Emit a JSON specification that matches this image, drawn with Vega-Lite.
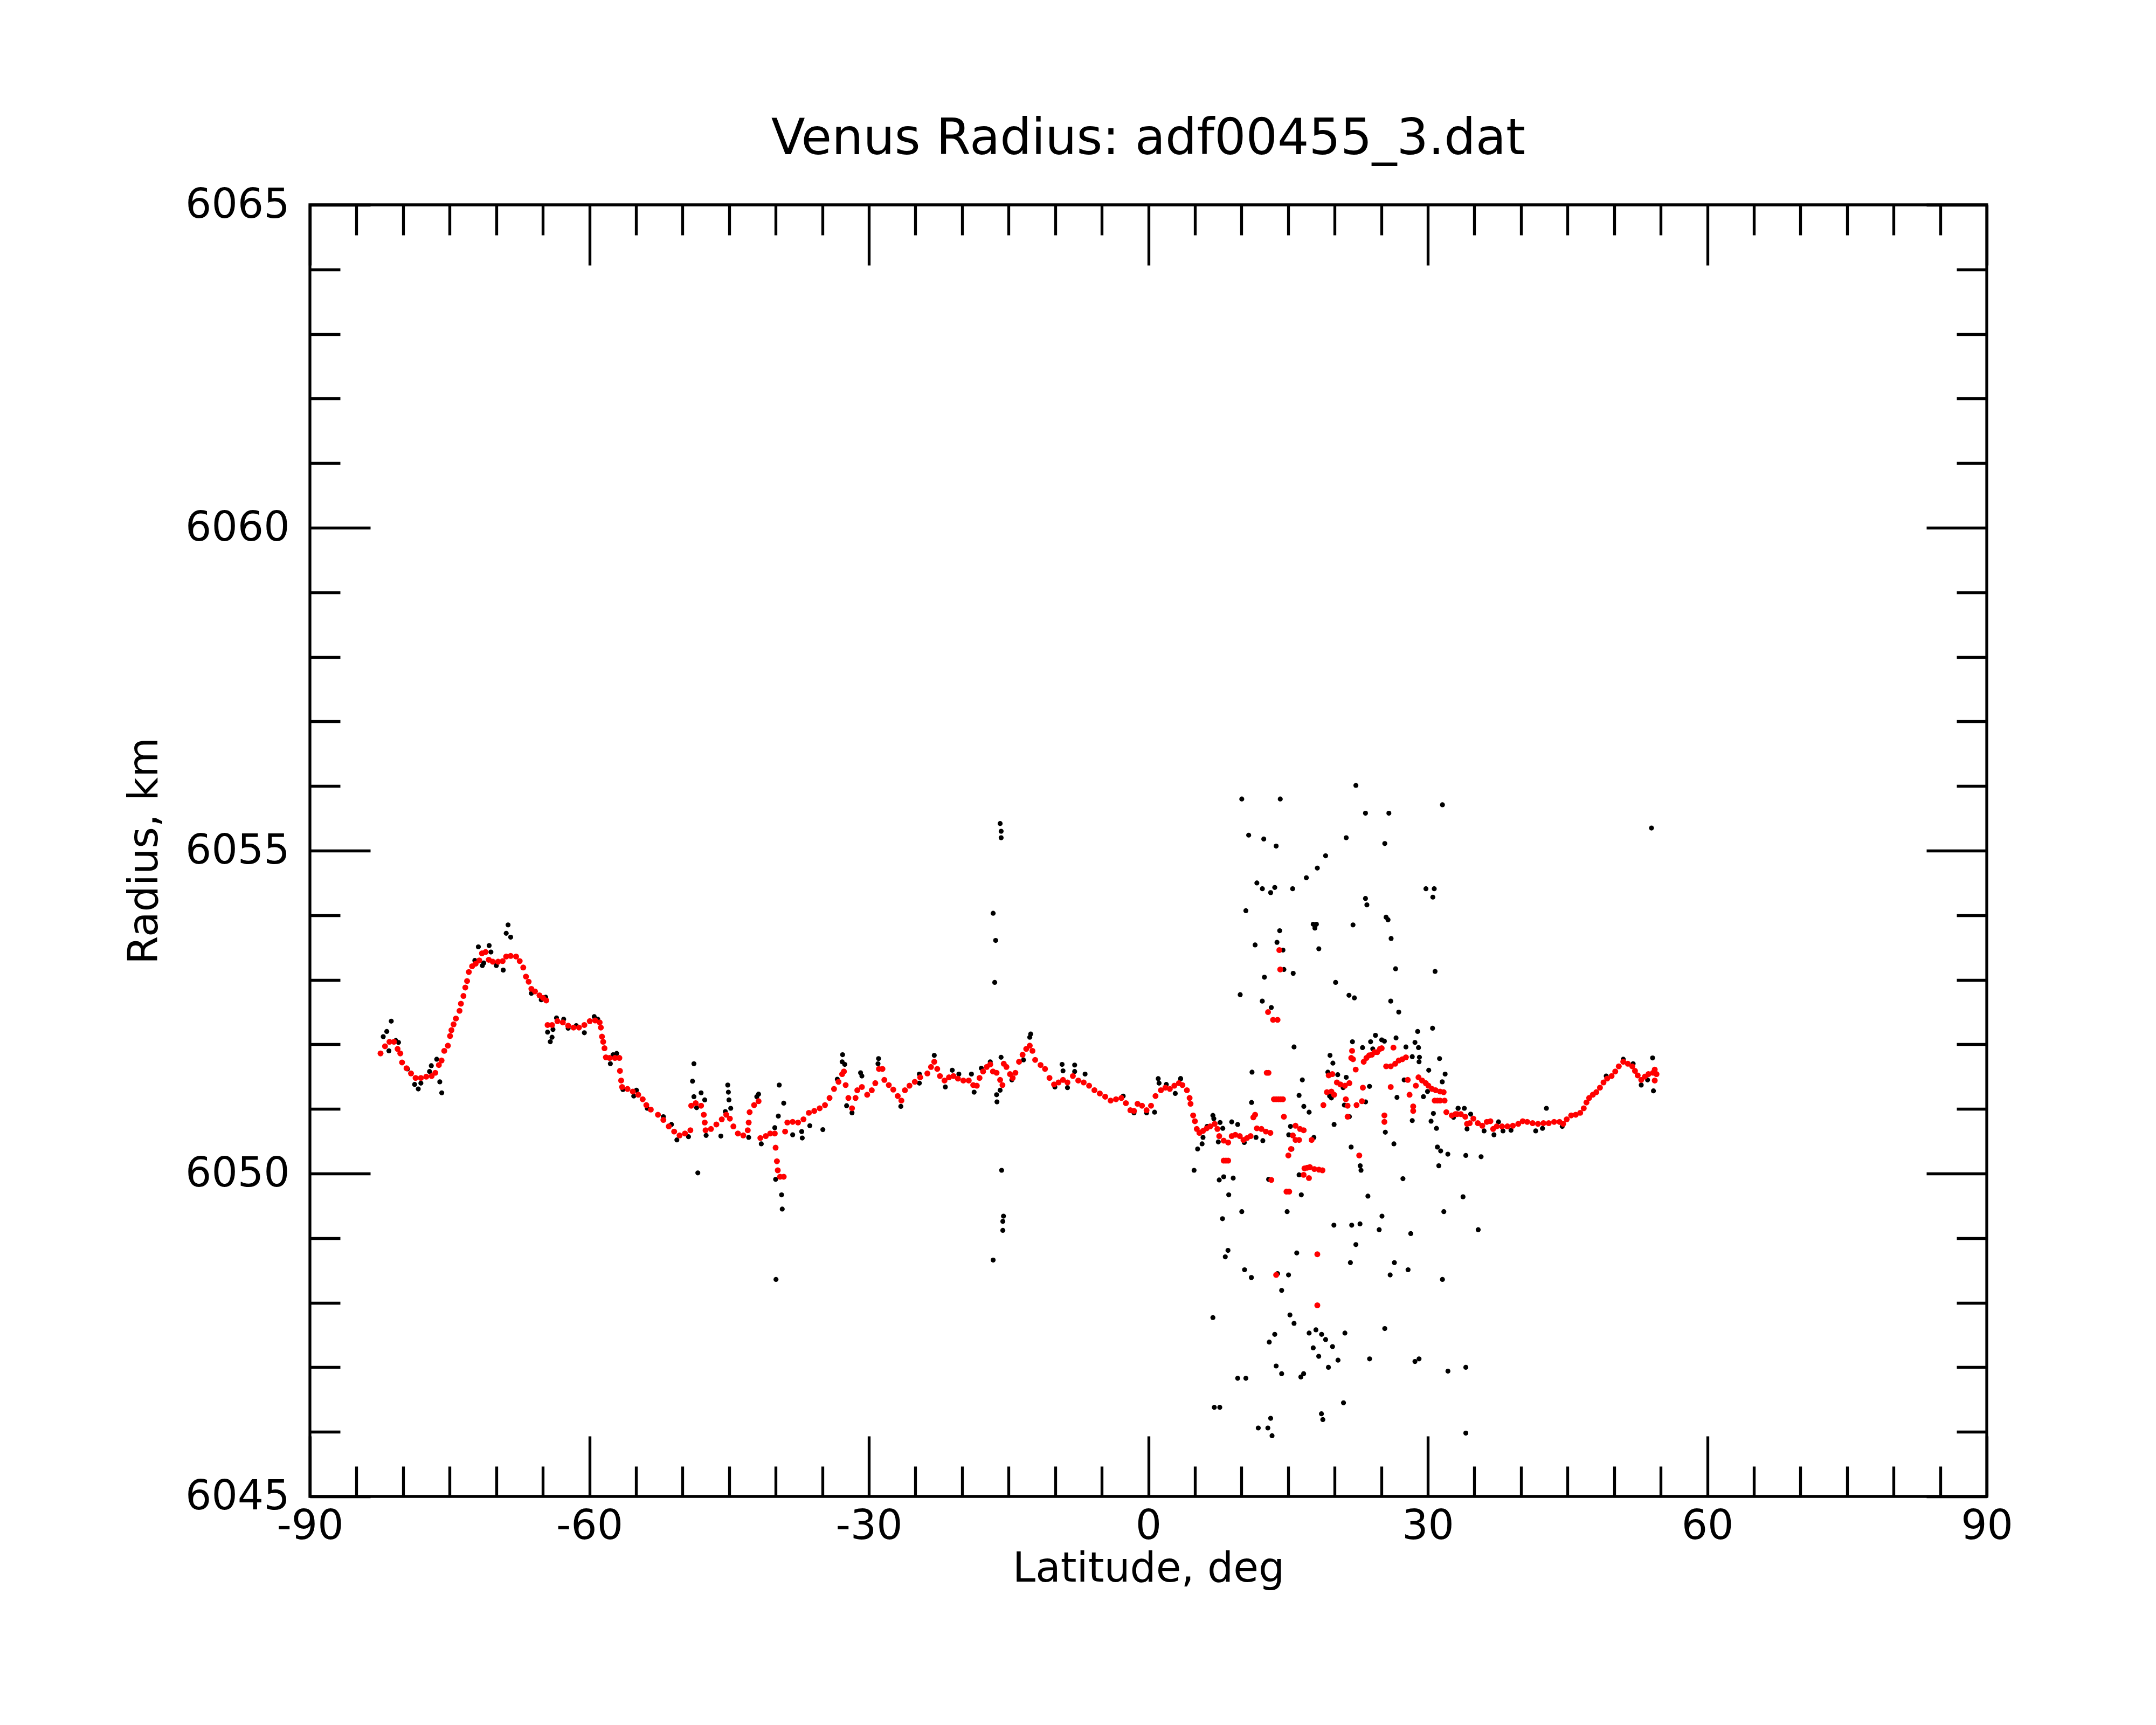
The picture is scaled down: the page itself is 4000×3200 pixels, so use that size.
{
"$schema": "https://vega.github.io/schema/vega-lite/v6.json",
"width": 3111, "height": 2396,
"autosize": {"type": "none"},
"padding": {"left": 575, "top": 380, "right": 314, "bottom": 424},
"background": "white",
"config": {
 "font": "DejaVu Sans",
 "view": {"stroke": "black", "strokeWidth": 5.3},
 "axis": {"grid": false, "domain": false, "labelFont": "DejaVu Sans", "titleFont": "DejaVu Sans", "labelColor": "black", "titleColor": "black", "tickColor": "black", "tickWidth": 5.3, "labelFontSize": 76, "titleFontSize": 76, "titleFontWeight": "normal", "labelFlush": false, "labelOverlap": false, "labelLimit": 0}
},
"title": {"text": "Venus Radius: adf00455_3.dat", "fontSize": 92, "font": "DejaVu Sans", "fontWeight": "normal", "color": "black", "anchor": "middle", "frame": "group", "baseline": "alphabetic", "offset": -36},
"datasets": {
"raw": [
{"lat":-81.27,"r":6052.36},{"lat":-81.75,"r":6052.20},{"lat":-82.13,"r":6052.12},{"lat":-80.78,"r":6052.06},{"lat":-80.49,"r":6052.03},{"lat":-81.52,"r":6051.90},{"lat":-79.53,"r":6051.62},{"lat":-78.76,"r":6051.38},{"lat":-78.37,"r":6051.31},{"lat":-78.09,"r":6051.40},{"lat":-76.97,"r":6051.67},{"lat":-76.39,"r":6051.77},{"lat":-77.16,"r":6051.58},{"lat":-76.06,"r":6051.42},{"lat":-75.85,"r":6051.25},{"lat":-68.73,"r":6053.85},{"lat":-68.93,"r":6053.72},{"lat":-68.45,"r":6053.66},{"lat":-71.92,"r":6053.51},{"lat":-70.76,"r":6053.53},{"lat":-70.57,"r":6053.43},{"lat":-72.30,"r":6053.30},{"lat":-71.49,"r":6053.22},{"lat":-71.34,"r":6053.26},{"lat":-69.99,"r":6053.22},{"lat":-69.25,"r":6053.15},{"lat":-66.23,"r":6052.79},{"lat":-65.17,"r":6052.69},{"lat":-64.69,"r":6052.73},{"lat":-64.49,"r":6052.19},{"lat":-64.01,"r":6052.11},{"lat":-64.20,"r":6052.04},{"lat":-63.91,"r":6052.23},{"lat":-63.53,"r":6052.41},{"lat":-62.76,"r":6052.39},{"lat":-62.28,"r":6052.25},{"lat":-61.41,"r":6052.29},{"lat":-60.54,"r":6052.18},{"lat":-59.48,"r":6052.43},{"lat":-59.10,"r":6052.39},{"lat":-57.75,"r":6051.70},{"lat":-57.07,"r":6051.86},{"lat":-57.46,"r":6051.84},{"lat":-56.40,"r":6051.30},{"lat":-55.24,"r":6051.20},{"lat":-54.95,"r":6051.29},{"lat":-53.79,"r":6051.01},
{"lat":-48.78,"r":6051.70},{"lat":-48.93,"r":6051.43},{"lat":-48.01,"r":6051.25},{"lat":-47.62,"r":6051.14},{"lat":-48.78,"r":6051.19},{"lat":-48.49,"r":6051.02},{"lat":-48.36,"r":6050.01},{"lat":-50.61,"r":6050.52},{"lat":-49.36,"r":6050.57},{"lat":-52.06,"r":6050.88},{"lat":-51.19,"r":6050.76},{"lat":-47.47,"r":6050.59},{"lat":-45.89,"r":6050.58},{"lat":-45.15,"r":6051.37},{"lat":-45.08,"r":6051.26},{"lat":-45.02,"r":6051.14},{"lat":-44.83,"r":6051.01},{"lat":-45.41,"r":6050.96},{"lat":-42.90,"r":6050.56},{"lat":-41.84,"r":6051.23},{"lat":-42.03,"r":6051.19},{"lat":-41.55,"r":6050.46},{"lat":-40.10,"r":6050.71},{"lat":-39.62,"r":6051.37},{"lat":-39.14,"r":6051.09},{"lat":-39.72,"r":6050.89},{"lat":-40.01,"r":6049.91},{"lat":-39.37,"r":6049.67},{"lat":-39.30,"r":6049.45},{"lat":-39.97,"r":6048.36},{"lat":-38.18,"r":6050.60},{"lat":-37.15,"r":6050.55},{"lat":-36.34,"r":6050.74},{"lat":-34.94,"r":6050.68},{"lat":-37.21,"r":6050.65},{"lat":-32.82,"r":6051.84},{"lat":-32.87,"r":6051.73},{"lat":-32.59,"r":6051.69},{"lat":-33.39,"r":6051.46},{"lat":-31.81,"r":6050.94},{"lat":-32.39,"r":6051.05},{"lat":-30.89,"r":6051.56},{"lat":-30.75,"r":6051.51},{"lat":-28.96,"r":6051.78},{"lat":-29.02,"r":6051.70},{"lat":-26.57,"r":6051.04},{"lat":-24.58,"r":6051.40},{"lat":-24.58,"r":6051.54},
{"lat":-22.98,"r":6051.83},{"lat":-21.05,"r":6051.60},{"lat":-20.34,"r":6051.54},{"lat":-21.79,"r":6051.34},{"lat":-18.99,"r":6051.54},{"lat":-18.70,"r":6051.26},{"lat":-17.93,"r":6051.63},{"lat":-16.97,"r":6051.73},{"lat":-15.81,"r":6051.80},{"lat":-16.39,"r":6053.61},{"lat":-16.49,"r":6052.96},{"lat":-16.66,"r":6054.03},{"lat":-15.91,"r":6051.29},{"lat":-16.29,"r":6051.22},{"lat":-16.25,"r":6051.11},{"lat":-15.75,"r":6050.05},{"lat":-12.63,"r":6052.16},{"lat":-12.73,"r":6052.11},{"lat":-13.40,"r":6051.76},{"lat":-14.65,"r":6051.45},{"lat":-9.26,"r":6051.69},{"lat":-9.16,"r":6051.59},{"lat":-7.91,"r":6051.68},{"lat":-7.91,"r":6051.58},{"lat":-6.79,"r":6051.54},{"lat":-10.03,"r":6051.34},{"lat":-8.68,"r":6051.33},{"lat":1.06,"r":6051.47},{"lat":1.15,"r":6051.40},{"lat":3.47,"r":6051.47},{"lat":2.89,"r":6051.24},{"lat":0.67,"r":6050.95},{"lat":-1.54,"r":6050.94},{"lat":-0.19,"r":6050.94},{"lat":-2.70,"r":6051.20},{"lat":1.93,"r":6051.38},
{"lat":-15.91,"r":6055.42},{"lat":-15.80,"r":6055.30},{"lat":-15.80,"r":6055.20},{"lat":-15.62,"r":6049.26},{"lat":-15.55,"r":6049.34},{"lat":-15.62,"r":6049.12},{"lat":-16.66,"r":6048.66},
{"lat":3.46,"r":6051.47},{"lat":6.93,"r":6050.90},{"lat":7.03,"r":6050.85},{"lat":7.70,"r":6050.79},{"lat":7.99,"r":6050.70},{"lat":8.95,"r":6050.80},{"lat":9.59,"r":6050.76},{"lat":6.31,"r":6050.73},{"lat":5.77,"r":6050.46},{"lat":5.29,"r":6050.38},{"lat":5.87,"r":6050.56},{"lat":7.51,"r":6050.49},{"lat":10.30,"r":6050.48},{"lat":11.56,"r":6050.56},{"lat":12.29,"r":6050.51},{"lat":11.08,"r":6051.10},{"lat":11.13,"r":6051.57},{"lat":11.46,"r":6053.54},{"lat":14.10,"r":6053.76},{"lat":13.81,"r":6053.58},{"lat":14.45,"r":6053.46},{"lat":14.55,"r":6053.16},{"lat":15.55,"r":6053.10},{"lat":12.46,"r":6053.04},{"lat":9.86,"r":6052.77},{"lat":12.23,"r":6052.67},{"lat":13.20,"r":6052.57},{"lat":15.64,"r":6051.96},{"lat":16.53,"r":6051.45},{"lat":16.18,"r":6051.21},{"lat":16.69,"r":6051.04},{"lat":17.26,"r":6050.95},{"lat":15.26,"r":6050.73},{"lat":15.07,"r":6050.60},{"lat":16.72,"r":6050.67},{"lat":17.77,"r":6050.56},{"lat":15.41,"r":6050.38},{"lat":4.91,"r":6050.05},{"lat":7.61,"r":6049.90},{"lat":8.09,"r":6049.95},{"lat":9.11,"r":6049.93},{"lat":8.63,"r":6049.67},{"lat":12.91,"r":6049.91},{"lat":16.42,"r":6049.67},{"lat":16.18,"r":6049.98},{"lat":18.04,"r":6053.86},{"lat":17.88,"r":6053.80},{"lat":18.30,"r":6053.48},{"lat":21.97,"r":6053.85},{"lat":25.73,"r":6053.93},{"lat":26.06,"r":6053.64},{"lat":26.54,"r":6053.17},{"lat":30.78,"r":6053.13},{"lat":20.10,"r":6052.96},{"lat":21.54,"r":6052.76},{"lat":22.12,"r":6052.72},{"lat":26.02,"r":6052.67},{"lat":26.88,"r":6052.50},{"lat":28.91,"r":6052.20},{"lat":30.51,"r":6052.25},{"lat":24.38,"r":6052.14},{"lat":21.91,"r":6052.04},{"lat":23.86,"r":6052.04},{"lat":22.99,"r":6051.95},{"lat":24.09,"r":6051.93},{"lat":25.05,"r":6052.07},{"lat":25.34,"r":6052.05},{"lat":26.59,"r":6052.10},{"lat":28.62,"r":6052.03},{"lat":29.00,"r":6051.95},{"lat":27.65,"r":6051.96},{"lat":28.33,"r":6051.81},{"lat":29.10,"r":6051.80},{"lat":29.06,"r":6051.73},{"lat":31.26,"r":6051.78},{"lat":30.10,"r":6051.60},{"lat":31.86,"r":6051.54},{"lat":31.55,"r":6051.42},{"lat":23.74,"r":6051.35},{"lat":19.50,"r":6051.83},{"lat":19.81,"r":6051.71},{"lat":19.27,"r":6051.57},{"lat":20.33,"r":6051.53},{"lat":21.24,"r":6051.49},{"lat":20.91,"r":6051.33},{"lat":26.69,"r":6051.18},{"lat":29.53,"r":6051.19},{"lat":27.46,"r":6051.45},{"lat":29.97,"r":6051.27},{"lat":19.46,"r":6051.20},{"lat":19.65,"r":6051.17},{"lat":23.32,"r":6051.11},{"lat":21.04,"r":6051.06},{"lat":21.58,"r":6050.88},{"lat":19.94,"r":6050.76},{"lat":30.60,"r":6050.93},{"lat":28.33,"r":6050.82},{"lat":30.35,"r":6050.81},{"lat":30.93,"r":6050.70},{"lat":25.44,"r":6050.64},{"lat":26.36,"r":6050.46},{"lat":21.77,"r":6050.41},{"lat":22.74,"r":6050.12},{"lat":22.83,"r":6050.05},{"lat":31.03,"r":6050.41},{"lat":31.38,"r":6050.35},{"lat":32.15,"r":6050.30},{"lat":31.18,"r":6050.12},{"lat":27.33,"r":6049.92},{"lat":23.57,"r":6049.65},{"lat":33.25,"r":6051.01},{"lat":32.76,"r":6050.87},{"lat":33.78,"r":6049.64},
{"lat":10.03,"r":6055.80},{"lat":14.16,"r":6055.80},{"lat":22.28,"r":6056.01},{"lat":31.57,"r":6055.71},{"lat":10.77,"r":6055.24},{"lat":12.39,"r":6055.18},{"lat":13.72,"r":6055.07},{"lat":23.31,"r":6055.58},{"lat":25.82,"r":6055.58},{"lat":25.38,"r":6055.11},{"lat":21.24,"r":6055.20},{"lat":19.03,"r":6054.92},{"lat":18.14,"r":6054.73},{"lat":16.96,"r":6054.58},{"lat":15.49,"r":6054.41},{"lat":11.65,"r":6054.50},{"lat":12.24,"r":6054.41},{"lat":13.13,"r":6054.35},{"lat":13.57,"r":6054.43},{"lat":10.47,"r":6054.07},{"lat":23.31,"r":6054.26},{"lat":23.46,"r":6054.16},{"lat":29.80,"r":6054.41},{"lat":30.69,"r":6054.41},{"lat":30.54,"r":6054.28},{"lat":25.52,"r":6053.97},{"lat":17.70,"r":6053.86},
{"lat":6.93,"r":6047.77},{"lat":7.08,"r":6046.38},{"lat":7.67,"r":6046.38},{"lat":7.96,"r":6049.30},{"lat":8.26,"r":6048.71},{"lat":8.55,"r":6048.81},{"lat":9.59,"r":6046.83},{"lat":10.47,"r":6046.83},{"lat":10.03,"r":6049.41},{"lat":10.33,"r":6048.51},{"lat":11.06,"r":6048.39},{"lat":11.80,"r":6046.06},{"lat":12.83,"r":6046.06},{"lat":13.13,"r":6046.21},{"lat":13.28,"r":6045.94},{"lat":12.98,"r":6047.39},{"lat":13.57,"r":6047.51},{"lat":13.72,"r":6047.02},{"lat":14.31,"r":6046.90},{"lat":13.87,"r":6048.45},{"lat":14.31,"r":6048.19},{"lat":14.90,"r":6049.41},{"lat":15.05,"r":6048.43},{"lat":15.20,"r":6047.81},{"lat":15.64,"r":6047.68},{"lat":15.93,"r":6048.77},{"lat":16.37,"r":6046.85},{"lat":16.67,"r":6046.90},{"lat":17.26,"r":6047.53},{"lat":17.70,"r":6047.30},{"lat":17.99,"r":6047.58},{"lat":18.60,"r":6047.51},{"lat":18.29,"r":6047.17},{"lat":18.58,"r":6046.28},{"lat":18.73,"r":6046.19},{"lat":19.03,"r":6047.43},{"lat":19.33,"r":6047.00},{"lat":19.77,"r":6047.32},{"lat":19.92,"r":6049.20},{"lat":20.36,"r":6047.11},{"lat":20.95,"r":6046.45},{"lat":21.10,"r":6047.53},{"lat":21.69,"r":6048.62},{"lat":21.83,"r":6049.20},{"lat":22.28,"r":6048.90},{"lat":22.72,"r":6049.22},{"lat":23.75,"r":6047.13},{"lat":24.78,"r":6049.13},{"lat":25.08,"r":6049.34},{"lat":25.38,"r":6047.60},{"lat":25.96,"r":6048.43},{"lat":26.41,"r":6048.62},{"lat":27.88,"r":6048.51},{"lat":28.17,"r":6049.07},{"lat":28.62,"r":6047.09},{"lat":29.06,"r":6047.13},{"lat":31.57,"r":6048.36},{"lat":31.72,"r":6049.41},{"lat":32.16,"r":6046.94},{"lat":34.08,"r":6047.00},{"lat":34.08,"r":6045.98},{"lat":35.41,"r":6049.13},
{"lat":33.92,"r":6051.01},{"lat":33.25,"r":6051.01},{"lat":34.60,"r":6050.92},{"lat":34.21,"r":6050.69},{"lat":36.04,"r":6050.66},{"lat":37.10,"r":6050.60},{"lat":37.59,"r":6050.80},{"lat":38.07,"r":6050.66},{"lat":38.93,"r":6050.67},{"lat":41.58,"r":6050.66},{"lat":42.31,"r":6050.70},{"lat":42.73,"r":6051.01},{"lat":44.43,"r":6050.73},{"lat":34.08,"r":6050.28},{"lat":35.72,"r":6050.26},{"lat":54.13,"r":6051.79},{"lat":54.22,"r":6051.28},{"lat":52.91,"r":6051.37},{"lat":53.59,"r":6051.45},{"lat":50.98,"r":6051.77},{"lat":52.04,"r":6051.70},{"lat":49.15,"r":6051.51},{"lat":54.01,"r":6055.35}
],
"fit": [
{"lat":-82.42,"r":6051.86},{"lat":-81.94,"r":6051.97},{"lat":-81.46,"r":6052.04},{"lat":-80.98,"r":6052.04},{"lat":-80.59,"r":6051.93},{"lat":-80.30,"r":6051.86},{"lat":-80.11,"r":6051.72},{"lat":-79.63,"r":6051.63},{"lat":-79.15,"r":6051.55},{"lat":-78.66,"r":6051.48},{"lat":-78.09,"r":6051.48},{"lat":-77.51,"r":6051.50},{"lat":-76.93,"r":6051.51},{"lat":-76.54,"r":6051.56},{"lat":-76.16,"r":6051.68},{"lat":-75.87,"r":6051.75},{"lat":-75.58,"r":6051.90},{"lat":-75.19,"r":6051.98},{"lat":-74.96,"r":6052.13},{"lat":-74.81,"r":6052.22},{"lat":-74.58,"r":6052.31},{"lat":-74.33,"r":6052.40},{"lat":-73.94,"r":6052.52},{"lat":-73.79,"r":6052.63},{"lat":-73.52,"r":6052.75},{"lat":-73.32,"r":6052.88},{"lat":-73.13,"r":6052.98},{"lat":-72.94,"r":6053.12},{"lat":-72.59,"r":6053.21},{"lat":-72.21,"r":6053.25},{"lat":-71.82,"r":6053.30},{"lat":-71.53,"r":6053.41},{"lat":-71.14,"r":6053.43},{"lat":-70.80,"r":6053.31},{"lat":-70.37,"r":6053.28},{"lat":-69.80,"r":6053.28},{"lat":-69.31,"r":6053.29},{"lat":-68.93,"r":6053.36},{"lat":-68.45,"r":6053.37},{"lat":-67.87,"r":6053.36},{"lat":-67.48,"r":6053.29},{"lat":-67.10,"r":6053.19},{"lat":-66.81,"r":6053.05},{"lat":-66.52,"r":6052.97},{"lat":-66.23,"r":6052.86},{"lat":-65.84,"r":6052.82},{"lat":-65.36,"r":6052.76},{"lat":-64.98,"r":6052.72},{"lat":-64.63,"r":6052.68},{"lat":-64.49,"r":6052.30},{"lat":-64.01,"r":6052.30},{"lat":-63.43,"r":6052.36},{"lat":-62.85,"r":6052.34},{"lat":-62.28,"r":6052.29},{"lat":-61.70,"r":6052.26},{"lat":-61.12,"r":6052.26},{"lat":-60.54,"r":6052.30},{"lat":-59.96,"r":6052.36},{"lat":-59.38,"r":6052.37},{"lat":-58.90,"r":6052.34},{"lat":-58.77,"r":6052.26},{"lat":-58.65,"r":6052.12},{"lat":-58.52,"r":6052.04},{"lat":-58.38,"r":6051.94},{"lat":-58.23,"r":6051.80},{"lat":-57.84,"r":6051.79},{"lat":-57.26,"r":6051.79},{"lat":-56.78,"r":6051.79},{"lat":-56.72,"r":6051.59},{"lat":-56.59,"r":6051.44},{"lat":-56.49,"r":6051.34},{"lat":-55.91,"r":6051.31},{"lat":-55.34,"r":6051.27},{"lat":-54.76,"r":6051.22},{"lat":-54.28,"r":6051.15},{"lat":-53.89,"r":6051.06},{"lat":-53.41,"r":6050.99},
{"lat":-52.64,"r":6050.91},{"lat":-52.06,"r":6050.83},{"lat":-51.48,"r":6050.73},{"lat":-50.90,"r":6050.65},{"lat":-50.32,"r":6050.59},{"lat":-49.74,"r":6050.62},{"lat":-49.16,"r":6050.67},{"lat":-49.07,"r":6051.05},{"lat":-48.59,"r":6051.09},{"lat":-48.01,"r":6051.05},{"lat":-47.72,"r":6050.91},{"lat":-47.62,"r":6050.79},{"lat":-47.53,"r":6050.67},{"lat":-46.95,"r":6050.69},{"lat":-46.37,"r":6050.76},{"lat":-45.79,"r":6050.84},{"lat":-45.31,"r":6050.91},{"lat":-44.92,"r":6050.85},{"lat":-44.54,"r":6050.73},{"lat":-44.06,"r":6050.62},{"lat":-43.48,"r":6050.59},{"lat":-43.00,"r":6050.67},{"lat":-42.90,"r":6050.79},{"lat":-42.80,"r":6050.95},{"lat":-42.32,"r":6051.06},{"lat":-41.84,"r":6051.12},{"lat":-41.65,"r":6050.55},{"lat":-41.07,"r":6050.58},{"lat":-40.59,"r":6050.62},{"lat":-40.10,"r":6050.62},{"lat":-40.01,"r":6050.40},{"lat":-39.87,"r":6050.19},{"lat":-39.78,"r":6050.05},{"lat":-39.53,"r":6049.95},{"lat":-39.14,"r":6049.95},{"lat":-38.99,"r":6050.65},{"lat":-38.75,"r":6050.79},{"lat":-38.18,"r":6050.80},{"lat":-37.60,"r":6050.79},{"lat":-37.02,"r":6050.84},{"lat":-36.44,"r":6050.94},{"lat":-35.86,"r":6050.97},{"lat":-35.28,"r":6051.01},{"lat":-34.71,"r":6051.06},{"lat":-34.22,"r":6051.17},{"lat":-33.74,"r":6051.31},{"lat":-33.26,"r":6051.42},{"lat":-32.87,"r":6051.54},{"lat":-32.68,"r":6051.58},{"lat":-32.49,"r":6051.37},{"lat":-32.20,"r":6051.17},{"lat":-31.81,"r":6051.01},{"lat":-31.43,"r":6051.17},{"lat":-31.24,"r":6051.29},{"lat":-30.75,"r":6051.34},{"lat":-30.18,"r":6051.22},{"lat":-29.69,"r":6051.29},{"lat":-29.31,"r":6051.40},{"lat":-28.92,"r":6051.62},{"lat":-28.54,"r":6051.62},{"lat":-28.34,"r":6051.45},{"lat":-27.86,"r":6051.37},{"lat":-27.38,"r":6051.30},{"lat":-26.90,"r":6051.20},{"lat":-26.51,"r":6051.13},{"lat":-26.13,"r":6051.29},{"lat":-25.64,"r":6051.36},{"lat":-25.07,"r":6051.42},
{"lat":-24.49,"r":6051.49},{"lat":-23.72,"r":6051.55},{"lat":-23.33,"r":6051.65},{"lat":-22.98,"r":6051.73},{"lat":-22.66,"r":6051.62},{"lat":-22.37,"r":6051.51},{"lat":-21.88,"r":6051.44},{"lat":-21.40,"r":6051.49},{"lat":-20.92,"r":6051.51},{"lat":-20.44,"r":6051.47},{"lat":-19.86,"r":6051.44},{"lat":-19.28,"r":6051.44},{"lat":-18.80,"r":6051.37},{"lat":-18.41,"r":6051.36},{"lat":-18.12,"r":6051.48},{"lat":-17.74,"r":6051.58},{"lat":-17.35,"r":6051.65},{"lat":-16.97,"r":6051.69},{"lat":-16.68,"r":6051.58},{"lat":-16.29,"r":6051.56},{"lat":-15.91,"r":6051.45},{"lat":-15.66,"r":6051.37},{"lat":-15.52,"r":6051.70},{"lat":-15.23,"r":6051.65},{"lat":-14.85,"r":6051.54},{"lat":-14.56,"r":6051.48},{"lat":-14.27,"r":6051.56},{"lat":-13.88,"r":6051.73},{"lat":-13.50,"r":6051.84},{"lat":-13.11,"r":6051.93},{"lat":-12.73,"r":6051.98},{"lat":-12.44,"r":6051.90},{"lat":-12.15,"r":6051.76},{"lat":-11.57,"r":6051.68},{"lat":-11.09,"r":6051.62},{"lat":-10.61,"r":6051.48},{"lat":-10.12,"r":6051.38},{"lat":-9.64,"r":6051.41},{"lat":-9.16,"r":6051.45},{"lat":-8.68,"r":6051.41},{"lat":-8.10,"r":6051.51},{"lat":-7.52,"r":6051.44},{"lat":-6.94,"r":6051.41},{"lat":-6.36,"r":6051.36},{"lat":-5.79,"r":6051.29},{"lat":-5.21,"r":6051.24},{"lat":-4.63,"r":6051.19},{"lat":-4.05,"r":6051.13},{"lat":-3.47,"r":6051.15},{"lat":-2.89,"r":6051.17},{"lat":-2.41,"r":6051.09},{"lat":-1.93,"r":6050.98},{"lat":-1.54,"r":6050.97},{"lat":-1.16,"r":6051.08},{"lat":-0.68,"r":6051.05},{"lat":-0.19,"r":6050.98},{"lat":0.29,"r":6051.05},{"lat":0.77,"r":6051.20},{"lat":1.35,"r":6051.29},{"lat":1.83,"r":6051.33},{"lat":2.31,"r":6051.31},{"lat":2.79,"r":6051.36},{"lat":3.28,"r":6051.40},{"lat":3.66,"r":6051.37},{"lat":4.14,"r":6051.29},{"lat":4.43,"r":6051.17},{"lat":4.53,"r":6051.08},
{"lat":4.81,"r":6050.90},{"lat":5.00,"r":6050.81},{"lat":5.20,"r":6050.69},{"lat":5.48,"r":6050.63},{"lat":5.87,"r":6050.66},{"lat":6.26,"r":6050.70},{"lat":6.64,"r":6050.73},{"lat":7.12,"r":6050.77},{"lat":7.41,"r":6050.69},{"lat":7.61,"r":6050.58},{"lat":8.09,"r":6050.51},{"lat":8.57,"r":6050.48},{"lat":8.95,"r":6050.58},{"lat":9.34,"r":6050.60},{"lat":9.82,"r":6050.58},{"lat":10.21,"r":6050.52},{"lat":10.59,"r":6050.55},{"lat":10.98,"r":6050.58},{"lat":11.27,"r":6050.87},{"lat":11.46,"r":6050.91},{"lat":11.65,"r":6050.70},{"lat":12.14,"r":6050.69},{"lat":12.62,"r":6050.65},{"lat":13.10,"r":6050.63},{"lat":12.71,"r":6051.56},{"lat":12.90,"r":6051.56},{"lat":13.48,"r":6051.15},{"lat":13.72,"r":6051.15},{"lat":13.97,"r":6051.15},{"lat":14.21,"r":6051.15},{"lat":14.45,"r":6051.15},{"lat":14.06,"r":6053.46},{"lat":14.16,"r":6053.16},{"lat":12.85,"r":6052.50},{"lat":13.39,"r":6052.38},{"lat":13.87,"r":6052.38},{"lat":14.55,"r":6050.88},{"lat":15.80,"r":6050.74},{"lat":16.28,"r":6050.69},{"lat":16.67,"r":6050.67},{"lat":15.51,"r":6050.59},{"lat":15.80,"r":6050.52},{"lat":16.18,"r":6050.52},{"lat":15.32,"r":6050.38},{"lat":15.03,"r":6050.28},{"lat":8.09,"r":6050.20},{"lat":8.33,"r":6050.20},{"lat":8.57,"r":6050.20},{"lat":13.20,"r":6049.90},{"lat":14.83,"r":6049.72},{"lat":15.12,"r":6049.72},{"lat":16.76,"r":6050.08},{"lat":17.05,"r":6050.09},{"lat":17.34,"r":6050.10},{"lat":17.82,"r":6050.07},{"lat":18.31,"r":6050.06},{"lat":18.69,"r":6050.05},{"lat":16.67,"r":6049.98},{"lat":17.24,"r":6049.93},{"lat":17.53,"r":6050.52},{"lat":18.79,"r":6051.06},{"lat":19.17,"r":6051.26},{"lat":19.65,"r":6051.27},{"lat":19.94,"r":6051.22},{"lat":19.36,"r":6051.52},{"lat":19.75,"r":6051.54},{"lat":20.24,"r":6051.41},{"lat":20.62,"r":6051.38},{"lat":21.10,"r":6051.36},{"lat":21.58,"r":6051.40},{"lat":21.20,"r":6051.15},{"lat":21.39,"r":6051.05},{"lat":21.39,"r":6050.88},{"lat":22.35,"r":6051.06},{"lat":22.93,"r":6051.12},{"lat":23.03,"r":6051.33},{"lat":22.26,"r":6051.61},{"lat":21.87,"r":6051.90},{"lat":21.78,"r":6051.79},{"lat":21.97,"r":6051.77},{"lat":23.12,"r":6051.73},{"lat":23.41,"r":6051.79},{"lat":23.70,"r":6051.83},{"lat":23.99,"r":6051.84},{"lat":24.28,"r":6051.88},{"lat":24.57,"r":6051.88},{"lat":24.86,"r":6051.93},{"lat":25.05,"r":6051.94},{"lat":26.31,"r":6051.95},{"lat":25.53,"r":6051.66},{"lat":26.02,"r":6051.66},{"lat":26.50,"r":6051.70},{"lat":26.88,"r":6051.75},{"lat":27.27,"r":6051.77},{"lat":27.65,"r":6051.80},{"lat":25.34,"r":6050.90},{"lat":25.34,"r":6050.80},{"lat":26.02,"r":6051.34},{"lat":27.85,"r":6051.45},{"lat":28.72,"r":6051.36},{"lat":28.04,"r":6051.22},{"lat":28.43,"r":6051.04},{"lat":28.43,"r":6050.97},{"lat":29.00,"r":6051.49},{"lat":29.39,"r":6051.44},{"lat":29.78,"r":6051.40},{"lat":30.06,"r":6051.36},{"lat":30.45,"r":6051.31},{"lat":30.84,"r":6051.29},{"lat":31.32,"r":6051.27},{"lat":31.70,"r":6051.26},{"lat":30.74,"r":6051.13},{"lat":31.03,"r":6051.13},{"lat":31.32,"r":6051.13},{"lat":31.80,"r":6051.13},{"lat":31.99,"r":6050.95},{"lat":32.57,"r":6050.90},{"lat":33.15,"r":6050.92},{"lat":22.64,"r":6050.28},{"lat":13.72,"r":6048.43},{"lat":18.14,"r":6048.75},{"lat":18.14,"r":6047.96},
{"lat":32.96,"r":6050.92},{"lat":33.54,"r":6050.92},{"lat":34.02,"r":6050.88},{"lat":34.21,"r":6050.77},{"lat":34.50,"r":6050.78},{"lat":34.89,"r":6050.85},{"lat":35.37,"r":6050.78},{"lat":35.85,"r":6050.74},{"lat":36.33,"r":6050.80},{"lat":36.72,"r":6050.81},{"lat":37.01,"r":6050.69},{"lat":37.39,"r":6050.73},{"lat":37.97,"r":6050.73},{"lat":38.55,"r":6050.73},{"lat":39.13,"r":6050.74},{"lat":39.71,"r":6050.77},{"lat":40.19,"r":6050.81},{"lat":40.67,"r":6050.80},{"lat":41.25,"r":6050.78},{"lat":41.83,"r":6050.77},{"lat":42.41,"r":6050.78},{"lat":42.98,"r":6050.78},{"lat":43.56,"r":6050.80},{"lat":44.14,"r":6050.80},{"lat":44.53,"r":6050.77},{"lat":44.91,"r":6050.84},{"lat":45.39,"r":6050.90},{"lat":45.88,"r":6050.91},{"lat":46.36,"r":6050.94},{"lat":46.74,"r":6051.01},{"lat":47.03,"r":6051.10},{"lat":47.32,"r":6051.17},{"lat":47.71,"r":6051.22},{"lat":48.09,"r":6051.26},{"lat":48.48,"r":6051.33},{"lat":48.86,"r":6051.41},{"lat":49.25,"r":6051.47},{"lat":49.73,"r":6051.51},{"lat":50.12,"r":6051.58},{"lat":50.50,"r":6051.66},{"lat":50.98,"r":6051.73},{"lat":51.47,"r":6051.70},{"lat":51.95,"r":6051.66},{"lat":52.24,"r":6051.59},{"lat":52.53,"r":6051.52},{"lat":52.91,"r":6051.45},{"lat":53.30,"r":6051.50},{"lat":53.68,"r":6051.54},{"lat":54.17,"r":6051.56},{"lat":54.36,"r":6051.61},{"lat":54.36,"r":6051.44},{"lat":54.55,"r":6051.54}
]
},
"layer": [
{"data": {"name": "raw"}, "mark": {"type": "circle", "size": 85, "opacity": 1, "color": "black"},
 "encoding": {
  "x": {"field": "lat", "type": "quantitative", "scale": {"domain": [-90, 90], "nice": false, "zero": false},
        "axis": {"orient": "bottom", "values": [-90,-60,-30,0,30,60,90], "labelExpr": "'' + datum.value", "ticks": false, "labelPadding": 18, "title": "Latitude, deg", "titlePadding": 4}},
  "y": {"field": "r", "type": "quantitative", "scale": {"domain": [6045, 6065], "nice": false, "zero": false},
        "axis": {"orient": "left", "values": [6045,6050,6055,6060,6065], "labelExpr": "'' + datum.value", "ticks": false, "labelPadding": 38, "title": "Radius, km", "titlePadding": 68}}
 }},
{"data": {"name": "fit"}, "mark": {"type": "circle", "size": 120, "opacity": 1, "color": "#ff0000"},
 "encoding": {
  "x": {"field": "lat", "type": "quantitative",
        "axis": {"orient": "bottom", "values": [-90,-85,-80,-75,-70,-65,-60,-55,-50,-45,-40,-35,-30,-25,-20,-15,-10,-5,0,5,10,15,20,25,30,35,40,45,50,55,60,65,70,75,80,85,90], "labels": false, "title": null,
                 "tickSize": {"condition": {"test": "datum.value % 30 === 0", "value": -112}, "value": -56}}},
  "y": {"field": "r", "type": "quantitative",
        "axis": {"orient": "left", "values": [6045,6046,6047,6048,6049,6050,6051,6052,6053,6054,6055,6056,6057,6058,6059,6060,6061,6062,6063,6064,6065], "labels": false, "title": null,
                 "tickSize": {"condition": {"test": "datum.value % 5 === 0", "value": -112}, "value": -56}}}
 }},
{"data": {"name": "fit"}, "mark": {"type": "circle", "opacity": 0},
 "encoding": {
  "x": {"field": "lat", "type": "quantitative",
        "axis": {"orient": "top", "values": [-90,-85,-80,-75,-70,-65,-60,-55,-50,-45,-40,-35,-30,-25,-20,-15,-10,-5,0,5,10,15,20,25,30,35,40,45,50,55,60,65,70,75,80,85,90], "labels": false, "title": null,
                 "tickSize": {"condition": {"test": "datum.value % 30 === 0", "value": -112}, "value": -56}}},
  "y": {"field": "r", "type": "quantitative",
        "axis": {"orient": "right", "values": [6045,6046,6047,6048,6049,6050,6051,6052,6053,6054,6055,6056,6057,6058,6059,6060,6061,6062,6063,6064,6065], "labels": false, "title": null,
                 "tickSize": {"condition": {"test": "datum.value % 5 === 0", "value": -112}, "value": -56}}}
 }}
],
"resolve": {"axis": {"x": "independent", "y": "independent"}}
}
